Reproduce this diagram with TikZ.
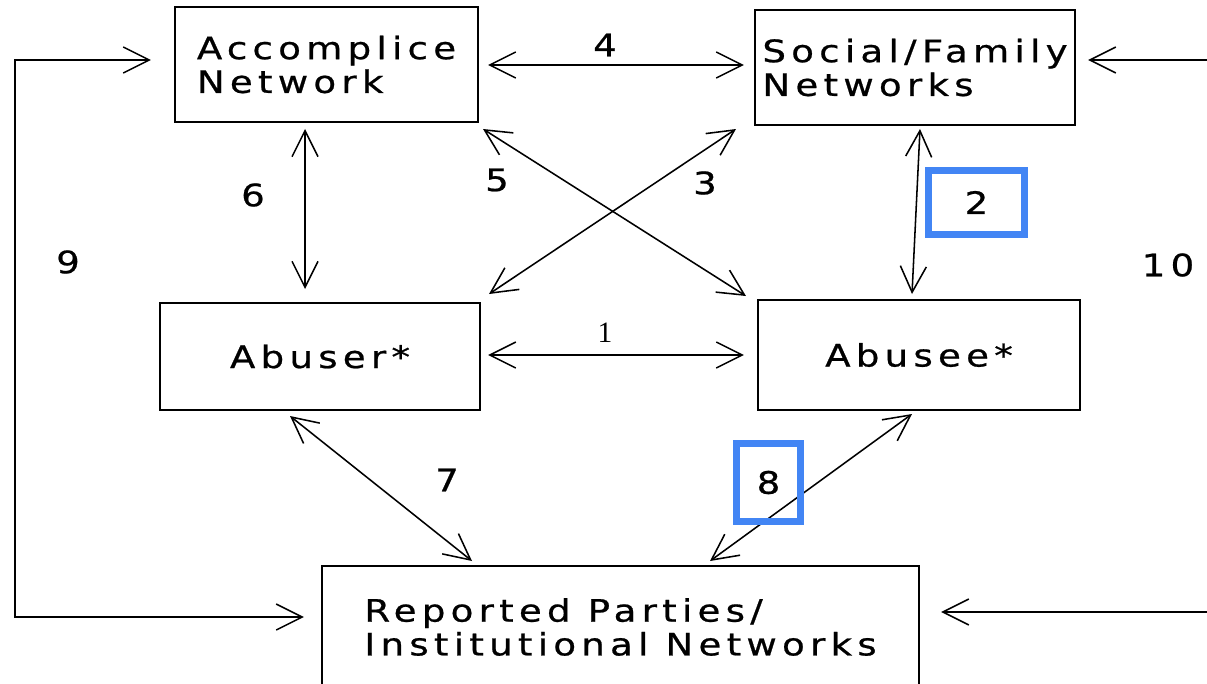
\documentclass[tikz,border=0pt]{standalone}
\usepackage{fontspec}
\usetikzlibrary{arrows.meta,calc}
\newfontfamily\hand{DejaVu Sans}[FakeStretch=1.2, LetterSpace=17, FakeBold=0.7]
\newfontfamily\numserif{Liberation Serif}
\definecolor{markblue}{RGB}{66,133,244}
\tikzset{
  netbox/.style={draw, line width=1.4pt, inner sep=0pt, align=left,
    font=\hand\fontsize{22}{24}\selectfont},
  link/.style={line width=1.1pt, {Straight Barb[length=0.65cm,width=0.65cm]}-{Straight Barb[length=0.65cm,width=0.65cm]}},
  onelink/.style={line width=1.1pt, -{Straight Barb[length=0.65cm,width=0.65cm]}},
  num/.style={font=\hand\fontsize{22}{24}\selectfont, inner sep=0pt},
  markbox/.style={draw=markblue, line width=5pt, inner sep=0pt,
    font=\hand\fontsize{22}{24}\selectfont}
}
\begin{document}
\begin{tikzpicture}[x=0.025cm, y=-0.025cm]
  \useasboundingbox (0,0) rectangle (1207,683);

  % boxes
  \node[netbox, minimum width=7.575cm, minimum height=2.875cm] (acc) at (326.5,64.5) {Accomplice\\Network};
  \node[netbox, minimum width=8cm, minimum height=2.875cm] (soc) at (915,67.5) {Social/Family\\Networks};
  \node[netbox, minimum width=8cm, minimum height=2.675cm] (ab) at (320,356.5) {Abuser*};
  \node[netbox, minimum width=8.05cm, minimum height=2.75cm] (abe) at (919,355) {Abusee*};
  \node[netbox, minimum width=14.925cm, minimum height=3.05cm] (rep) at (620.5,627) {Reported Parties/\\Institutional Networks};

  % links between boxes
  \draw[link] ($(acc.east)+(9,0.5)$) -- ($(soc.west)+(-10,-2.5)$);
  \draw[link] ($(acc.south)+(-21.5,6)$) -- ($(ab.north)+(-15,-13)$);
  \draw[link] ($(soc.south)+(5,3)$) -- ($(abe.north)+(-7,-5)$);
  \draw[link] ($(acc.south east)+(4,6)$) -- ($(abe.north west)+(-11,-3)$);
  \draw[link] ($(soc.south west)+(-18,3)$) -- ($(ab.north east)+(8,-8)$);
  \draw[link] ($(ab.east)+(7,-1.5)$) -- ($(abe.west)+(-13,0)$);
  \draw[link] ($(ab.south)+(-30,5)$) -- ($(rep.north)+(-148.5,-4)$);
  \draw[link] ($(abe.south)+(-7,3)$) -- ($(rep.north)+(89.5,-4)$);

  % 9 and 10
  \coordinate (n9) at (15,60);
  \coordinate (n10) at (1207,60);
  \coordinate (s10) at (1207,612);
  \draw[link] ($(rep.west)+(-17,-10)$) -| (n9) -- ($(acc.west |- n9)+(-23,0)$);
  \draw[onelink] (n10) -- ($(soc.east |- n10)+(12,0)$);
  \draw[onelink] (s10) -- ($(rep.east |- s10)+(21,0)$);

  % numbers
  \node[num] (l4) at (605,45) {4};
  \node[num] (l6) at (253,195) {6};
  \node[num] (l5) at (497,180) {5};
  \node[num] (l3) at (705,183) {3};
  \node[num] (l9) at (68,262) {9};
  \node[num] (l10) at (1168,265) {10};
  \node[num] (l7) at (447,480) {7};
  \node[font=\numserif\fontsize{21}{23.4}\selectfont, inner sep=0pt] (l1) at (605,333) {1};
  \node[markbox, minimum width=2.4cm, minimum height=1.6cm] (l2) at (976.5,202.5) {2};
  \node[markbox, minimum width=1.6cm, minimum height=1.95cm] (l8) at (768.5,482.5) {8};
\end{tikzpicture}
\end{document}
